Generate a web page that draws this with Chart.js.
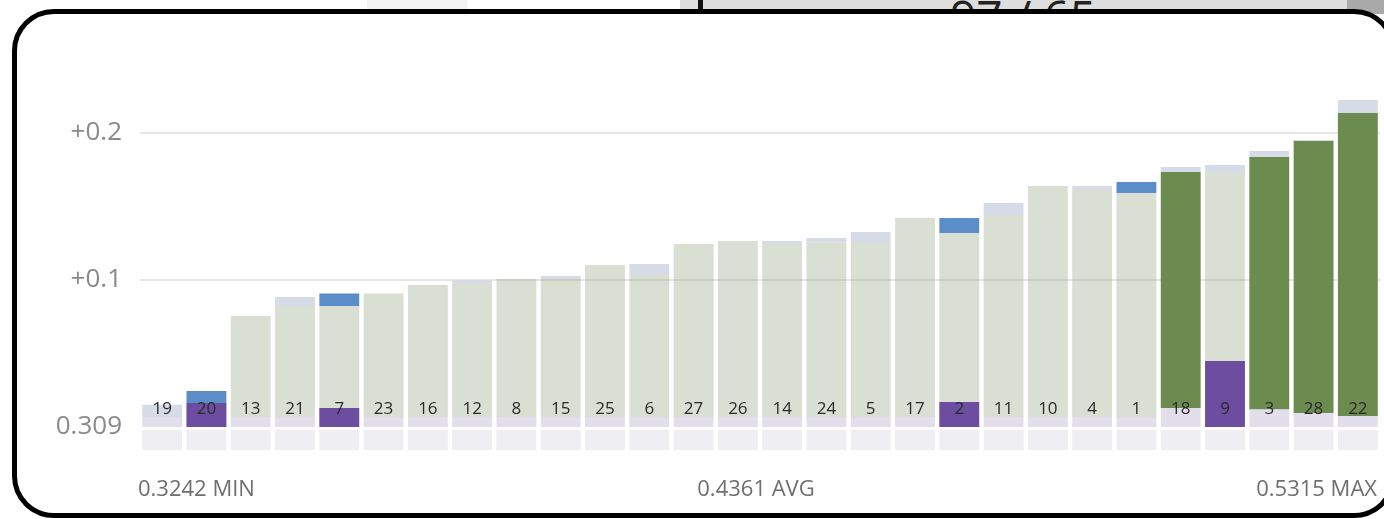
<!DOCTYPE html>
<html>
<head>
<meta charset="utf-8">
<script src="https://cdn.jsdelivr.net/npm/chart.js@4.4.0/dist/chart.umd.min.js"></script>
<style>
  html, body { margin: 0; padding: 0; width: 1384px; height: 519px; overflow: hidden; background: #fff; }
  #faint { position: absolute; left: 367px; top: 0; width: 100px; height: 12px; background: #f3f3f3; }
  #strip { position: absolute; left: 680px; top: 0; width: 704px; height: 14px; background: #dedede; overflow: hidden; }
  #strip .mark { position: absolute; left: 18px; top: 0; width: 5px; height: 14px; background: #111; }
  #strip .dark { position: absolute; left: 667px; top: 0; width: 40px; height: 14px; background: #a9a9a9; }
  #strip .txt { position: absolute; left: 270px; top: -7px; font: 46px/46px "Open Sans", sans-serif; color: #222; white-space: pre; }
  #frame { position: absolute; left: 12px; top: 9px; width: 1384px; height: 509px; box-sizing: border-box;
           border: 5px solid #000; border-radius: 42px; background: #fff; }
  #chart { position: absolute; left: 0; top: 0; }
</style>
</head>
<body>
<div id="faint"></div>
<div id="strip"><div class="mark"></div><div class="txt">97 / 65</div><div class="dark"></div></div>
<div id="frame"></div>
<canvas id="chart" width="1384" height="519"></canvas>
<script>
// items, sorted by value
const ids = ['19','20','13','21','7','23','16','12','8','15','25','6','27','26','14',
             '24','5','17','2','11','10','4','1','18','9','3','28','22'];

// top of the main bar body
const bodyTop = [0.3158, 0.3253, 0.3845, 0.3913, 0.3913, 0.3999, 0.4056, 0.4070, 0.4097, 0.4104,
                 0.4192, 0.4124, 0.4335, 0.4355, 0.4335, 0.4348, 0.4342, 0.4512, 0.4410, 0.4532,
                 0.4730, 0.4703, 0.4682, 0.4825, 0.4825, 0.4927, 0.5036, 0.5226];

// final value (top of the cap)
const finalValue = [0.3242, 0.3335, 0.3845, 0.3974, 0.3999, 0.3999, 0.4056, 0.4090, 0.4097, 0.4117,
                    0.4192, 0.4199, 0.4335, 0.4355, 0.4355, 0.4376, 0.4417, 0.4512, 0.4512, 0.4614,
                    0.4730, 0.4730, 0.4757, 0.4859, 0.4872, 0.4968, 0.5043, 0.5315];

// leaders (dark green) and where their body starts
const leaders = ['18','3','28','22'];
const leaderBottom = { '18': 0.3219, '3': 0.3212, '28': 0.3185, '22': 0.3165 };
const lightBottom = 0.3158;

// items whose cap is a rise (blue)
const risers = ['20','7','2','1'];

// flagged items (purple) and their level
const flagged = { '20': 0.3253, '7': 0.3219, '2': 0.3260, '9': 0.3539 };

// axis
const baseValue = 0.309;
const tickValues = [0.309, 0.409, 0.509];
const tickLabels = ['0.309', '+0.1', '+0.2'];

// summary under the chart
const summaryNames = ['MIN', 'AVG', 'MAX'];
const summaryValues = ['0.3242', '0.4361', '0.5315'];

const bodyBottom = ids.map(id => leaders.includes(id) ? leaderBottom[id] : lightBottom);

const common = { grouped: false, barPercentage: 0.9, categoryPercentage: 1, borderWidth: 0 };

const labelsPlugin = {
  id: 'itemLabels',
  afterDatasetsDraw(chart) {
    const { ctx, scales: { x, y }, chartArea } = chart;
    ctx.save();
    ctx.font = '17px "Open Sans", sans-serif';
    ctx.fillStyle = '#2a2a2a';
    ctx.textAlign = 'center';
    ctx.textBaseline = 'middle';
    const ly = y.getPixelForValue(baseValue) - 18;
    ids.forEach((id, i) => ctx.fillText(id, x.getPixelForValue(i), ly));

    ctx.font = '22px "Open Sans", sans-serif';
    ctx.fillStyle = '#6f6f6f';
    const sy = 490;
    ctx.textAlign = 'left';
    ctx.fillText(summaryValues[0] + ' ' + summaryNames[0], chartArea.left - 2, sy);
    ctx.textAlign = 'center';
    ctx.fillText(summaryValues[1] + ' ' + summaryNames[1], (chartArea.left + chartArea.right) / 2 - 4, sy);
    ctx.textAlign = 'right';
    ctx.fillText(summaryValues[2] + ' ' + summaryNames[2], chartArea.right - 3, sy);
    ctx.restore();
  }
};

new Chart(document.getElementById('chart'), {
  type: 'bar',
  data: {
    labels: ids,
    datasets: [
      { // pale band below the base
        ...common, order: 10,
        data: ids.map(() => [0.2934, 0.3072]),
        backgroundColor: '#eeeef3'
      },
      { // lavender floor
        ...common, order: 9,
        data: ids.map((id, i) => [baseValue, bodyBottom[i]]),
        backgroundColor: '#e3deeb'
      },
      { // body
        ...common, order: 8,
        data: ids.map((id, i) => [bodyBottom[i], bodyTop[i]]),
        backgroundColor: ids.map(id => leaders.includes(id) ? '#6b8b4f' : 'rgba(125,148,105,0.29)')
      },
      { // cap
        ...common, order: 7,
        data: ids.map((id, i) => [bodyTop[i], finalValue[i]]),
        backgroundColor: ids.map(id => risers.includes(id) ? '#5b8ec9' : '#d5dce7')
      },
      { // flag
        ...common, order: 6,
        data: ids.map(id => flagged[id] !== undefined ? [baseValue, flagged[id]] : null),
        backgroundColor: '#6c4d9f'
      }
    ]
  },
  options: {
    responsive: false,
    animation: false,
    devicePixelRatio: 1,
    layout: { padding: { top: 80, bottom: 64, left: 0, right: 4 } },
    plugins: { legend: { display: false }, tooltip: { enabled: false } },
    scales: {
      x: { display: false, grid: { display: false } },
      y: {
        min: 0.29,
        max: 0.5451,
        border: { display: false },
        afterFit(scale) { scale.width = 140; },
        afterBuildTicks(scale) { scale.ticks = tickValues.map(v => ({ value: v })); },
        grid: {
          drawTicks: false,
          lineWidth: 2,
          color: ctx => (ctx.tick && ctx.tick.value === baseValue) ? 'rgba(0,0,0,0)' : '#e6e6e6'
        },
        ticks: {
          padding: 18,
          color: '#8a8a8a',
          font: { family: 'Open Sans', size: 26 },
          callback: (v) => tickLabels[tickValues.indexOf(v)]
        }
      }
    }
  },
  plugins: [labelsPlugin]
});
</script>
</body>
</html>
